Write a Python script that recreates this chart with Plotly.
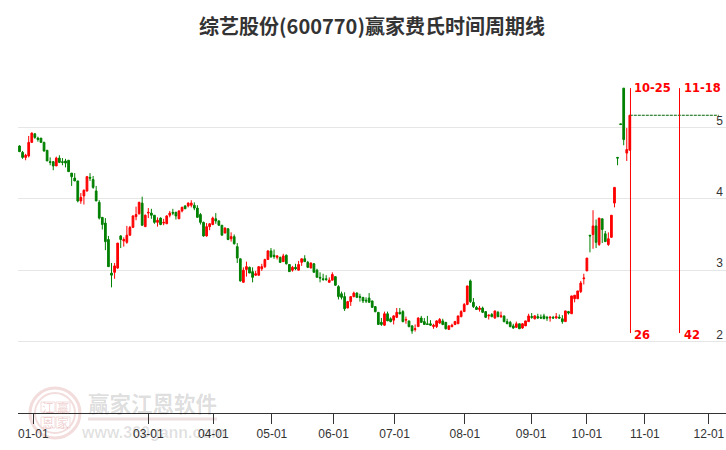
import plotly.graph_objects as go

title_text = "综艺股份(600770)赢家费氏时间周期线"

# open, high, low, close for each trading day
ohlc = [
(4.74,4.75,4.66,4.66),(4.65,4.67,4.56,4.58),(4.58,4.63,4.54,4.61),(4.60,4.88,4.58,4.79),(4.79,4.93,4.79,4.92),
(4.91,4.92,4.84,4.86),(4.85,4.87,4.80,4.83),(4.85,4.85,4.79,4.79),(4.79,4.80,4.66,4.67),(4.68,4.68,4.53,4.53),
(4.52,4.58,4.47,4.51),(4.52,4.53,4.40,4.46),(4.46,4.59,4.46,4.57),(4.57,4.61,4.50,4.51),(4.52,4.57,4.47,4.51),
(4.53,4.56,4.44,4.50),(4.54,4.54,4.38,4.38),(4.36,4.36,4.18,4.31),(4.29,4.36,4.25,4.25),(4.25,4.25,3.95,3.97),
(3.97,4.08,3.93,4.02),(4.04,4.13,3.92,4.12),(4.11,4.32,4.10,4.31),(4.30,4.36,4.25,4.29),(4.27,4.32,4.14,4.16),
(4.11,4.18,3.97,3.97),(3.95,3.98,3.71,3.73),(3.74,3.74,3.57,3.64),(3.66,3.73,3.28,3.40),(3.43,3.48,3.05,3.05),
(2.96,3.10,2.76,2.93),(2.97,3.10,2.88,3.06),(3.03,3.38,3.02,3.38),(3.48,3.49,3.31,3.43),(3.41,3.46,3.33,3.43),
(3.39,3.62,3.37,3.49),(3.49,3.62,3.48,3.60),(3.60,3.77,3.59,3.76),(3.75,3.89,3.70,3.78),(3.79,3.96,3.78,3.95),
(3.94,4.03,3.62,3.63),(3.61,3.78,3.61,3.77),(3.80,3.87,3.73,3.81),(3.80,3.86,3.72,3.77),(3.77,3.77,3.65,3.67),
(3.67,3.74,3.61,3.70),(3.73,3.74,3.63,3.64),(3.66,3.72,3.63,3.67),(3.65,3.77,3.65,3.76),(3.77,3.83,3.74,3.80),
(3.81,3.86,3.77,3.80),(3.81,3.82,3.71,3.76),(3.72,3.84,3.72,3.83),(3.83,3.89,3.81,3.88),(3.90,3.91,3.86,3.86),
(3.90,3.95,3.88,3.94),(3.91,3.98,3.88,3.94),(3.91,3.95,3.84,3.87),(3.87,3.91,3.74,3.74),(3.78,3.80,3.64,3.67),
(3.67,3.68,3.47,3.48),(3.48,3.66,3.47,3.61),(3.61,3.66,3.56,3.65),(3.64,3.75,3.63,3.73),(3.72,3.80,3.65,3.69),
(3.69,3.70,3.62,3.63),(3.63,3.63,3.49,3.49),(3.52,3.60,3.52,3.59),(3.58,3.59,3.42,3.43),(3.44,3.53,3.40,3.47),
(3.47,3.50,3.36,3.37),(3.33,3.38,3.10,3.17),(3.16,3.16,2.84,2.85),(2.83,3.04,2.83,3.00),(3.01,3.12,2.91,3.05),
(3.04,3.05,2.96,2.96),(2.98,3.04,2.83,2.90),(2.93,2.99,2.92,2.95),(2.93,3.05,2.92,3.05),(3.02,3.09,2.99,3.05),
(3.05,3.16,3.03,3.15),(3.15,3.28,3.15,3.27),(3.27,3.31,3.17,3.19),(3.21,3.29,3.16,3.19),(3.18,3.21,3.15,3.20),
(3.18,3.19,3.10,3.11),(3.12,3.23,3.12,3.20),(3.21,3.22,3.08,3.09),(3.08,3.08,2.98,2.98),(3.00,3.06,2.98,3.04),
(3.04,3.09,3.00,3.02),(3.00,3.13,3.00,3.08),(3.11,3.16,3.06,3.16),(3.16,3.21,3.12,3.12),(3.11,3.13,3.03,3.04),
(3.03,3.11,3.03,3.10),(3.09,3.10,2.97,2.97),(3.00,3.02,2.90,2.90),(2.90,2.97,2.83,2.89),(2.88,2.95,2.85,2.87),
(2.88,2.93,2.85,2.87),(2.83,2.90,2.83,2.86),(2.86,2.97,2.86,2.94),(2.91,2.91,2.78,2.79),(2.77,2.79,2.59,2.63),
(2.67,2.70,2.59,2.62),(2.63,2.69,2.43,2.46),(2.47,2.57,2.47,2.56),(2.56,2.63,2.50,2.63),(2.63,2.70,2.62,2.68),
(2.68,2.69,2.61,2.62),(2.63,2.67,2.56,2.62),(2.62,2.62,2.54,2.57),(2.58,2.62,2.54,2.57),(2.61,2.68,2.55,2.55),
(2.57,2.57,2.47,2.48),(2.49,2.49,2.41,2.42),(2.41,2.41,2.24,2.24),(2.27,2.33,2.22,2.24),(2.23,2.42,2.22,2.39),
(2.39,2.42,2.29,2.29),(2.32,2.34,2.27,2.28),(2.30,2.37,2.24,2.36),(2.34,2.47,2.33,2.41),(2.41,2.47,2.38,2.39),
(2.42,2.44,2.27,2.28),(2.30,2.35,2.25,2.31),(2.29,2.29,2.20,2.21),(2.22,2.23,2.11,2.15),(2.17,2.24,2.14,2.18),
(2.21,2.34,2.21,2.33),(2.33,2.36,2.26,2.27),(2.28,2.33,2.24,2.24),(2.25,2.36,2.24,2.24),(2.25,2.30,2.22,2.23),
(2.21,2.25,2.18,2.23),(2.21,2.30,2.19,2.29),(2.26,2.33,2.25,2.31),(2.29,2.32,2.23,2.24),(2.27,2.27,2.17,2.18),
(2.17,2.23,2.17,2.22),(2.21,2.25,2.20,2.23),(2.24,2.29,2.23,2.28),(2.25,2.36,2.25,2.36),(2.35,2.44,2.34,2.42),
(2.42,2.54,2.42,2.52),(2.52,2.78,2.51,2.78),(2.85,2.87,2.54,2.56),(2.55,2.61,2.47,2.49),(2.48,2.50,2.45,2.45),
(2.45,2.50,2.42,2.47),(2.47,2.49,2.40,2.41),(2.42,2.42,2.33,2.34),(2.36,2.38,2.31,2.37),(2.38,2.40,2.34,2.35),
(2.33,2.43,2.32,2.43),(2.41,2.43,2.34,2.35),(2.35,2.42,2.33,2.36),(2.36,2.36,2.27,2.28),(2.28,2.32,2.25,2.25),
(2.27,2.29,2.20,2.21),(2.22,2.25,2.18,2.19),(2.20,2.28,2.19,2.25),(2.25,2.25,2.18,2.18),(2.19,2.26,2.18,2.25),
(2.22,2.29,2.22,2.29),(2.28,2.39,2.28,2.36),(2.35,2.40,2.32,2.34),(2.32,2.37,2.31,2.36),(2.35,2.39,2.32,2.33),
(2.34,2.38,2.32,2.33),(2.36,2.39,2.32,2.32),(2.34,2.36,2.29,2.33),(2.33,2.36,2.28,2.34),(2.34,2.36,2.32,2.33),
(2.33,2.40,2.32,2.35),(2.34,2.38,2.32,2.33),(2.32,2.37,2.25,2.28),(2.28,2.43,2.28,2.43),(2.42,2.43,2.38,2.40),
(2.39,2.64,2.39,2.64),(2.60,2.65,2.55,2.65),(2.60,2.71,2.60,2.71),(2.70,2.85,2.68,2.82),(2.88,2.95,2.80,2.89),
(2.99,3.17,2.99,3.17),(3.49,3.49,3.25,3.48),(3.50,3.84,3.30,3.62),(3.62,3.71,3.31,3.39),(3.36,3.73,3.34,3.73),
(3.72,3.72,3.38,3.57),(3.51,3.55,3.40,3.40),(3.36,3.53,3.34,3.44),(3.46,3.77,3.46,3.77),(3.94,4.16,3.88,4.16),
(4.58,4.58,4.47,4.57),(5.05,5.05,5.04,5.04),(5.55,5.55,4.75,4.83),(4.64,4.99,4.53,4.69),(4.68,5.17,4.68,5.17),
]
opens = [r[0] for r in ohlc]
highs = [r[1] for r in ohlc]
lows = [r[2] for r in ohlc]
closes = [r[3] for r in ohlc]
days = list(range(len(ohlc)))

tick_labels = ["01-01","03-01","04-01","05-01","06-01","07-01","08-01","09-01","10-01","11-01","12-01"]
tick_days = [4.5,42.0,63.2,82.3,102.4,122.3,145.2,166.8,185.0,203.9,224.8]
y_ticks = [1,2,3,4,5]

last_close = 5.17
cycle_days = [199.21,215.2]
cycle_dates = ["10-25","11-18"]
cycle_counts = ["26","42"]
cycle_top = 5.55
cycle_bottom = 2.12

W, H = 726, 450
ML, MR, MT, MB = 18, 0, 56, 37

def px(x):
    return (x - ML) / (W - ML - MR)
def py(y):
    return (H - MB - y) / (H - MT - MB)

fig = go.Figure()
fig.add_trace(go.Candlestick(
    x=days, open=opens, high=highs, low=lows, close=closes,
    increasing=dict(line=dict(color="#ff0000", width=1), fillcolor="#ff0000"),
    decreasing=dict(line=dict(color="#008000", width=1), fillcolor="#008000"),
    whiskerwidth=0, showlegend=False, hoverinfo="skip",
))

shapes = []
annos = []

# price guide
shapes.append(dict(type="line", xref="x", yref="y", x0=days[-1], x1=228, y0=last_close, y1=last_close,
                   line=dict(color="#006400", width=1, dash="3px,1px")))
# cycle lines
for d, date, cnt in zip(cycle_days, cycle_dates, cycle_counts):
    shapes.append(dict(type="line", xref="x", yref="y", x0=d, x1=d, y0=cycle_bottom, y1=cycle_top,
                       line=dict(color="#ff0000", width=1)))
    annos.append(dict(x=d, y=cycle_top, xref="x", yref="y", text=date, showarrow=False, xanchor="left",
                      yanchor="middle", xshift=2, font=dict(family="DejaVu Sans", size=11.5, color="#ff0000", weight="bold")))
    annos.append(dict(x=d, y=cycle_bottom, xref="x", yref="y", text=cnt, showarrow=False, xanchor="left",
                      yanchor="middle", xshift=2, yshift=-2, font=dict(family="DejaVu Sans", size=11.5, color="#ff0000", weight="bold")))

# watermark
ring = "#f3dcdc"
shapes.append(dict(type="circle", xref="paper", yref="paper", x0=px(30), x1=px(80), y0=py(438), y1=py(388),
                   line=dict(color=ring, width=3), layer="below"))
shapes.append(dict(type="circle", xref="paper", yref="paper", x0=px(35), x1=px(75), y0=py(433), y1=py(393),
                   line=dict(color=ring, width=2), layer="below"))
for (a, b, c, d_, ch) in [(41,55,402,412,"江"),(56,70,402,412,"赢"),(41,55,417,428,"恩"),(56,70,417,428,"家")]:
    shapes.append(dict(type="rect", xref="paper", yref="paper", x0=px(a), x1=px(b), y0=py(d_), y1=py(c),
                       line=dict(color=ring, width=1), layer="below"))
    annos.append(dict(x=px((a+b)/2), y=py((c+d_)/2), xref="paper", yref="paper", text=ch, showarrow=False,
                      xanchor="center", yanchor="middle",
                      font=dict(family="Noto Sans CJK SC", size=12, color="rgba(200,90,90,0.28)")))
shapes.append(dict(type="line", xref="paper", yref="paper", x0=px(88), x1=px(217), y0=py(419), y1=py(419),
                   line=dict(color="#eee0e0", width=3), layer="below"))
annos.append(dict(x=px(152.5), y=py(402), xref="paper", yref="paper", text="赢家江恩软件", showarrow=False,
                  xanchor="center", yanchor="middle",
                  font=dict(family="Noto Sans CJK SC", size=21.5, color="rgba(0,0,0,0.14)", weight="bold")))
annos.append(dict(x=px(152.5), y=py(432), xref="paper", yref="paper", text="www.360gann.com", showarrow=False,
                  xanchor="center", yanchor="middle",
                  font=dict(family="Liberation Sans", size=16, color="rgba(0,0,0,0.12)", weight="bold")))

fig.update_layout(
    width=W, height=H, margin=dict(l=ML, r=MR, t=MT, b=MB),
    paper_bgcolor="white", plot_bgcolor="white",
    font=dict(family="Liberation Sans", size=12, color="#333333"),
    title=dict(text=title_text, x=372/W, xanchor="center", y=1-27/H, yanchor="middle",
               font=dict(family="Noto Sans CJK SC", size=20, color="#333333", weight="bold")),
    xaxis=dict(range=[-0.49,230.36], rangeslider=dict(visible=False), showgrid=False, zeroline=False,
               tickmode="array", tickvals=tick_days, ticktext=tick_labels, ticks="outside", ticklen=10,
               tickcolor="#333333", tickwidth=1, showline=True, linecolor="#333333", linewidth=1,
               tickfont=dict(size=12, color="#333333")),
    yaxis=dict(range=[1,6], side="right", tickmode="array", tickvals=y_ticks, ticktext=[str(v) for v in y_ticks],
               showgrid=True, gridcolor="#e6e6e6", gridwidth=1, zeroline=False, showline=False, ticks="",
               ticklabelposition="inside", ticklabelshift=-7, tickfont=dict(size=12, color="#333333")),
    boxgap=0.2, shapes=shapes, annotations=annos, showlegend=False,
)
fig.write_html("out.html", config=dict(displayModeBar=False),
               post_script="document.body.style.margin='0';document.documentElement.style.overflow='hidden';")
